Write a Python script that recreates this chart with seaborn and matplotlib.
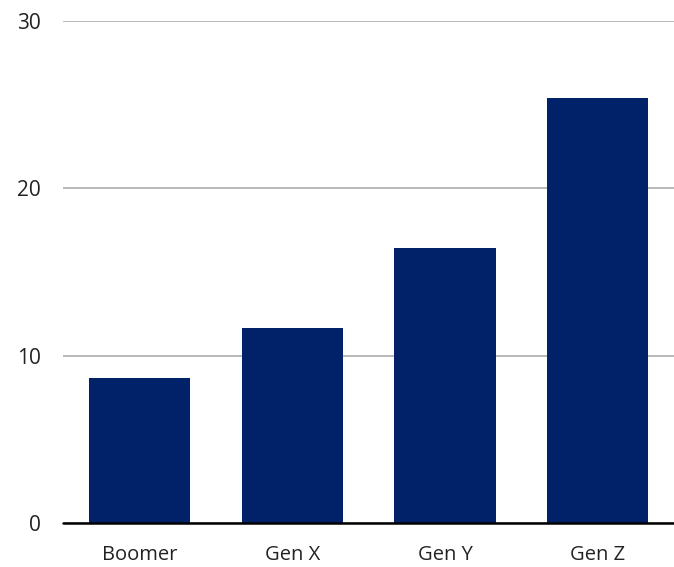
import pandas as pd
import seaborn as sns
from matplotlib import pyplot as plt

generations = ['Boomer', 'Gen X', 'Gen Y', 'Gen Z']
values = [8.65, 11.65, 16.45, 25.4]

sns.set_theme(style='white')
plt.rcParams['font.family'] = ['Open Sans', 'DejaVu Sans']

df = pd.DataFrame({'generation': generations, 'value': values})

fig = plt.figure(figsize=(6.74, 5.67), dpi=100)
ax = fig.add_axes([0.094, 0.0776, 0.906, 0.8854])

sns.barplot(df, x='generation', y='value', color='#012169', width=0.665,
            saturation=1, linewidth=0, ax=ax, zorder=3)

ax.set_ylim(0, 30)
ax.set_xlim(-0.5, 3.5)
ax.set_yticks([0, 10, 20, 30])
ax.yaxis.grid(True, color='#b3b3b3', linewidth=1.3, zorder=0)
ax.axhline(0, color='black', linewidth=1.8, zorder=4, clip_on=False)
for side in ['top', 'right', 'left', 'bottom']:
    ax.spines[side].set_visible(False)
ax.tick_params(axis='y', length=0, pad=16, labelsize=15, labelcolor='#222222')
ax.tick_params(axis='x', length=0, pad=16, labelsize=14.5, labelcolor='#222222')
ax.set_xlabel('')
ax.set_ylabel('')

fig.savefig('out.png', dpi=100)
